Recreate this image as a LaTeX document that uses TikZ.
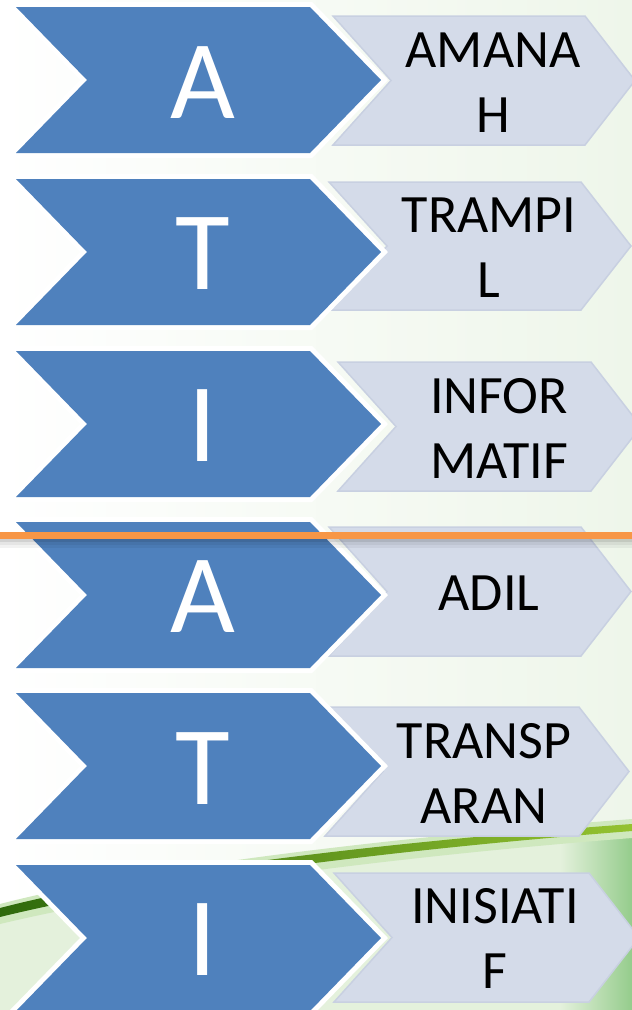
\documentclass[tikz,border=0pt]{standalone}
\usepackage{fontspec}
\setmainfont{Carlito}
\usetikzlibrary{calc}
\definecolor{chevblue}{HTML}{4F81BD}
\definecolor{chevlight}{HTML}{D4DBE9}
\definecolor{chevedge}{HTML}{C8D0E1}
\definecolor{accentorange}{HTML}{F79646}
\definecolor{leafdark}{HTML}{2F6A0C}
\definecolor{leafmid}{HTML}{4F8A16}
\definecolor{leafbright}{HTML}{94C230}
\definecolor{bgtint}{HTML}{EEF6EA}
\definecolor{glowpale}{HTML}{E4F1DC}
\definecolor{glowgreen}{HTML}{95CC8C}
\definecolor{leafhalo}{HTML}{CFE8BE}
\newcommand\chevron[7]{\path[#1] (#2,#4) -- (#3,#4) -- ({#3+#7},{(#4+#5)/2}) -- (#3,#5) -- (#2,#5) -- ({#2+#6},{(#4+#5)/2}) -- cycle;}
\tikzset{
  bluechev/.style={preaction={draw=white,line width=10pt,line join=miter}, fill=chevblue},
  lightchev/.style={fill=chevlight, draw=chevedge, line width=1.5pt, line join=miter},
  bigletter/.style={text=white, font=\fontsize{112}{112}\selectfont, inner sep=0pt},
  wordtext/.style={text=black, font=\fontsize{54}{65}\selectfont, align=center, inner sep=0pt},
}
\begin{document}
\begin{tikzpicture}[x=1pt,y=-1pt]
\useasboundingbox (0,0) rectangle (632,1010);
\clip (0,0) rectangle (632,1010);
% background
\shade[left color=white, right color=bgtint] (0,0) rectangle (632,1010);
\fill[glowpale] (0,913) .. controls (150,873) and (400,845) .. (632,827) -- (632,1010) -- (0,1010) -- cycle;
\shade[left color=glowpale, right color=glowgreen] (560,835) rectangle (632,1010);
% leaf streak
\fill[leafhalo] (0,904) .. controls (150,865) and (400,837) .. (632,819) -- (632,838) .. controls (400,856) and (150,888) .. (0,924) -- cycle;
\shade[left color=leafdark, middle color=leafmid, right color=leafbright] (0,908) .. controls (150,869) and (400,841) .. (632,824) -- (632,831) .. controls (400,849) and (150,880) .. (0,917) -- cycle;
% light chevrons
\chevron{lightchev}{333}{585}{16}{145}{58}{50}
\chevron{lightchev}{329}{581}{182}{310}{58}{50}
\chevron{lightchev}{338}{591}{362}{491}{58}{50}
\chevron{lightchev}{329}{581}{527}{656}{58}{50}
\chevron{lightchev}{325}{579}{707}{836}{58}{50}
\chevron{lightchev}{334}{589}{873}{1002}{58}{50}
% blue chevrons
\chevron{bluechev}{16}{310}{7}{153}{71}{71}
\chevron{bluechev}{16}{310}{179}{325}{71}{71}
\chevron{bluechev}{16}{310}{351}{497}{71}{71}
\chevron{bluechev}{16}{310}{522}{668}{71}{71}
\chevron{bluechev}{16}{310}{693}{839}{71}{71}
\chevron{bluechev}{16}{310}{865}{1011}{71}{71}
% letters
\node[bigletter] (l1) at (203,82.5) {A};
\node[bigletter] (l2) at (203,254) {T};
\node[bigletter] (l3) at (203,425.5) {I};
\node[bigletter] (l4) at (203,596.5) {A};
\node[bigletter] (l5) at (203,769) {T};
\node[bigletter] (l6) at (203,939.5) {I};
% words
\node[wordtext] (w1) at (493,82.5) {AMANA\\H};
\node[wordtext] (w2) at (489,248) {TRAMPI\\L};
\node[wordtext] (w3) at (499,428.5) {INFOR\\MATIF};
\node[wordtext] (w4) at (489,593.5) {ADIL};
\node[wordtext] (w5) at (484,773.5) {TRANSP\\ARAN};
\node[wordtext] (w6) at (495,938.5) {INISIATI\\F};
% orange rule with soft shadow
\fill[black, opacity=.18] (0,539) rectangle (632,542);
\fill[black, opacity=.10] (0,542) rectangle (632,545);
\fill[black, opacity=.05] (0,545) rectangle (632,548);
\fill[accentorange] (0,532) rectangle (632,539);
\end{tikzpicture}
\end{document}
